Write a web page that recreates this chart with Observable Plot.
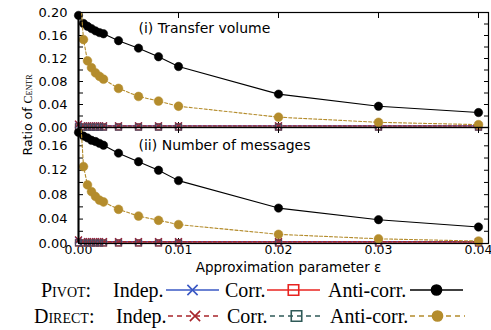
<!DOCTYPE html>
<html><head><meta charset="utf-8">
<script src="https://cdn.jsdelivr.net/npm/d3@7"></script>
<script src="https://cdn.jsdelivr.net/npm/@observablehq/plot@0.6"></script>
<style>
body{margin:0;background:#fff}
#chart{position:relative;width:491px;height:330px;overflow:hidden;background:#fff}
#chart svg{position:absolute;left:0;overflow:visible}
</style></head><body><div id="chart"></div>
<script>
// ---- data ----
const eps = [0, 0.0005, 0.0009, 0.0013, 0.0017, 0.0021, 0.0025, 0.004, 0.006, 0.008, 0.01, 0.02, 0.03, 0.04];

// (i) Transfer volume
const volPivotIndep  = [0.005, 0.003, 0.003, 0.003, 0.003, 0.003, 0.003, 0.003, 0.003, 0.003, 0.003, 0.003, 0.003, 0.003];
const volPivotCorr   = [0.001, 0.001, 0.001, 0.001, 0.001, 0.001, 0.001, 0.001, 0.001, 0.001, 0.001, 0.001, 0.001, 0.001];
const volPivotAnti   = [0.195, 0.181, 0.176, 0.172, 0.168, 0.165, 0.163, 0.151, 0.138, 0.123, 0.106, 0.058, 0.037, 0.026];
const volDirectIndep = [0.006, 0.003, 0.003, 0.003, 0.003, 0.003, 0.003, 0.003, 0.003, 0.003, 0.003, 0.003, 0.003, 0.003];
const volDirectCorr  = [0.001, 0.0008, 0.0008, 0.0008, 0.0008, 0.0008, 0.0008, 0.0008, 0.0008, 0.0008, 0.0008, 0.0008, 0.0008, 0.0008];
const volDirectAnti  = [0.27, 0.153, 0.116, 0.104, 0.095, 0.089, 0.084, 0.068, 0.054, 0.046, 0.037, 0.018, 0.009, 0.005];

// (ii) Number of messages
const msgPivotIndep  = [0.005, 0.003, 0.003, 0.003, 0.003, 0.003, 0.003, 0.003, 0.003, 0.003, 0.003, 0.003, 0.003, 0.003];
const msgPivotCorr   = [0.001, 0.001, 0.001, 0.001, 0.001, 0.001, 0.001, 0.001, 0.001, 0.001, 0.001, 0.001, 0.001, 0.001];
const msgPivotAnti   = [0.182, 0.176, 0.173, 0.169, 0.167, 0.164, 0.161, 0.148, 0.134, 0.120, 0.103, 0.058, 0.039, 0.027];
const msgDirectIndep = [0.006, 0.003, 0.003, 0.003, 0.003, 0.003, 0.003, 0.003, 0.003, 0.003, 0.003, 0.003, 0.003, 0.003];
const msgDirectCorr  = [0.001, 0.0008, 0.0008, 0.0008, 0.0008, 0.0008, 0.0008, 0.0008, 0.0008, 0.0008, 0.0008, 0.0008, 0.0008, 0.0008];
const msgDirectAnti  = [0.26, 0.126, 0.096, 0.085, 0.077, 0.071, 0.068, 0.056, 0.045, 0.038, 0.031, 0.015, 0.0077, 0.004];

const xTicks = [0, 0.01, 0.02, 0.03, 0.04];
const volYTicks = [0, 0.04, 0.08, 0.12, 0.16, 0.20];
const volYMinor = [0, 0.02, 0.04, 0.06, 0.08, 0.10, 0.12, 0.14, 0.16, 0.18, 0.20];
const msgYTicks = [0, 0.04, 0.08, 0.12, 0.16];
const msgYMinor = [0, 0.02, 0.04, 0.06, 0.08, 0.10, 0.12, 0.14, 0.16, 0.18];
const xTitle = "Approximation parameter ε";

const seriesKeys = ["PivotIndep", "PivotCorr", "PivotAnti", "DirectIndep", "DirectCorr", "DirectAnti"];
const styles = {
  PivotIndep:  {color: "#3a58c4", dash: null,  symbol: "times",  r: 3.2, filled: false},
  PivotCorr:   {color: "#e8231f", dash: null,  symbol: "square", r: 3.4, filled: false},
  PivotAnti:   {color: "#000000", dash: null,  symbol: "circle", r: 4.2, filled: true},
  DirectIndep: {color: "#a8242a", dash: "3,2", symbol: "times",  r: 3.2, filled: false},
  DirectCorr:  {color: "#4a4a62", dash: "3,2", symbol: "square", r: 3.4, filled: false},
  DirectAnti:  {color: "#b48c2c", dash: "3,2", symbol: "circle", r: 4.4, filled: true}
};
const legendColorDirectCorr = "#2f5a58";
const volSeries = {PivotIndep: volPivotIndep, PivotCorr: volPivotCorr, PivotAnti: volPivotAnti, DirectIndep: volDirectIndep, DirectCorr: volDirectCorr, DirectAnti: volDirectAnti};
const msgSeries = {PivotIndep: msgPivotIndep, PivotCorr: msgPivotCorr, PivotAnti: msgPivotAnti, DirectIndep: msgDirectIndep, DirectCorr: msgDirectCorr, DirectAnti: msgDirectAnti};

const fmt = d3.format(".2f");
const XDOMAIN = [0, 0.041];

function panel({series, ymax, yTicks, yMinor, height, marginTop, marginBottom, title, titleDy, bottom}) {
  const marks = [];
  marks.push(Plot.axisY(yMinor, {anchor: "left", tickSize: -5, tickFormat: () => "", label: null}));
  marks.push(Plot.axisY(yMinor, {anchor: "right", tickSize: -5, tickFormat: () => "", label: null}));
  marks.push(Plot.axisX(xTicks, {anchor: "top", tickSize: -5, tickFormat: () => "", label: null}));
  marks.push(Plot.axisX(xTicks, {anchor: "bottom", tickSize: -5, tickFormat: () => "", label: null}));
  marks.push(Plot.axisY(yTicks, {anchor: "left", tickSize: 0, tickPadding: 11, tickFormat: fmt, label: null}));
  if (bottom) {
    marks.push(Plot.axisX(xTicks, {anchor: "bottom", tickSize: 0, tickPadding: 2, tickFormat: fmt, label: null, fontSize: 12.5}));
    marks.push(Plot.text([xTitle], {frameAnchor: "bottom", dx: 5, dy: 24, lineAnchor: "middle", fontSize: 13.5, fill: "black"}));
  }
  for (const k of seriesKeys) {
    const st = styles[k];
    const rows = eps.map((x, i) => ({x, y: series[k][i]}));
    marks.push(Plot.line(rows, {x: "x", y: "y", stroke: st.color, strokeWidth: 1.1, strokeDasharray: st.dash, clip: true}));
    const vis = rows.filter(d => d.y <= ymax);
    marks.push(Plot.dot(vis, {x: "x", y: "y", symbol: st.symbol, r: st.r,
      fill: st.filled ? st.color : "none", stroke: st.color, strokeWidth: st.filled ? 0.5 : 1.2}));
  }
  marks.push(Plot.frame({stroke: "black", strokeWidth: 1.2}));
  marks.push(Plot.ruleX([0], {stroke: "black", strokeWidth: 2}));
  marks.push(Plot.text([title], {frameAnchor: "top-left", dx: 60, dy: titleDy, textAnchor: "start", lineAnchor: "middle", fontSize: 14, fill: "black"}));
  return Plot.plot({
    width: 491, height, marginLeft: 78, marginRight: 3, marginTop, marginBottom,
    x: {domain: XDOMAIN, axis: null},
    y: {domain: [0, ymax], axis: null},
    style: {fontFamily: "DejaVu Sans", fontSize: "13px", color: "black", background: "transparent", overflow: "visible"},
    marks
  });
}

const chart = document.getElementById("chart");
const topPanel = panel({series: volSeries, ymax: 0.20, yTicks: volYTicks, yMinor: volYMinor, height: 128, marginTop: 12, marginBottom: 1, title: "(i) Transfer volume", titleDy: 16, bottom: false});
topPanel.style.top = "0px";
chart.appendChild(topPanel);
const botPanel = panel({series: msgSeries, ymax: 0.19, yTicks: msgYTicks, yMinor: msgYMinor, height: 146, marginTop: 0, marginBottom: 30, title: "(ii) Number of messages", titleDy: 18, bottom: true});
botPanel.style.top = "127px";
chart.appendChild(botPanel);

// y label
const ys = d3.create("svg").attr("width", 40).attr("height", 250).style("top", "0px");
const yt = ys.append("text").attr("transform", "translate(32,115) rotate(-90)").attr("text-anchor", "middle")
  .attr("font-family", "DejaVu Sans").attr("font-size", 12.5);
yt.append("tspan").text("Ratio of ");
yt.append("tspan").attr("font-family", "Liberation Serif").attr("font-variant", "small-caps").attr("font-size", 12).text("Centr");
chart.appendChild(ys.node());

// legend
const legendRows = [
  {label: "Pivot:", lx: 41, y: 17, items: [
    {k: "PivotIndep", text: "Indep.", tx: 113, s0: 166, s1: 219},
    {k: "PivotCorr", text: "Corr.", tx: 225, s0: 267, s1: 320},
    {k: "PivotAnti", text: "Anti-corr.", tx: 328, s0: 410, s1: 463}]},
  {label: "Direct:", lx: 34, y: 43, items: [
    {k: "DirectIndep", text: "Indep.", tx: 116, s0: 168, s1: 222},
    {k: "DirectCorr", text: "Corr.", tx: 227, s0: 270, s1: 323},
    {k: "DirectAnti", text: "Anti-corr.", tx: 330, s0: 410, s1: 465}]}
];
const lg = d3.create("svg").attr("width", 491).attr("height", 57).style("top", "273px");
for (const row of legendRows) {
  lg.append("text").attr("x", row.lx).attr("y", row.y).attr("dy", "0.35em")
    .attr("font-family", "Liberation Serif").attr("font-size", 20).attr("font-variant", "small-caps").text(row.label);
  for (const it of row.items) {
    const st = styles[it.k];
    const col = it.k === "DirectCorr" ? legendColorDirectCorr : st.color;
    lg.append("text").attr("x", it.tx).attr("y", row.y).attr("dy", "0.35em")
      .attr("font-family", "Liberation Serif").attr("font-size", 20).text(it.text);
    lg.append("line").attr("x1", it.s0).attr("x2", it.s1).attr("y1", row.y).attr("y2", row.y)
      .attr("stroke", col).attr("stroke-width", 1.6).attr("stroke-dasharray", st.dash ? "5,4" : null);
    const cx = (it.s0 + it.s1) / 2;
    const sym = st.symbol === "times" ? d3.symbolTimes : st.symbol === "square" ? d3.symbolSquare : d3.symbolCircle;
    const size = st.symbol === "times" ? 70 : st.symbol === "square" ? 110 : 80;
    lg.append("path").attr("d", d3.symbol(sym, size)()).attr("transform", `translate(${cx},${row.y})`)
      .attr("fill", st.filled ? col : "none").attr("stroke", col).attr("stroke-width", 1.6);
  }
}
chart.appendChild(lg.node());
</script></body></html>
